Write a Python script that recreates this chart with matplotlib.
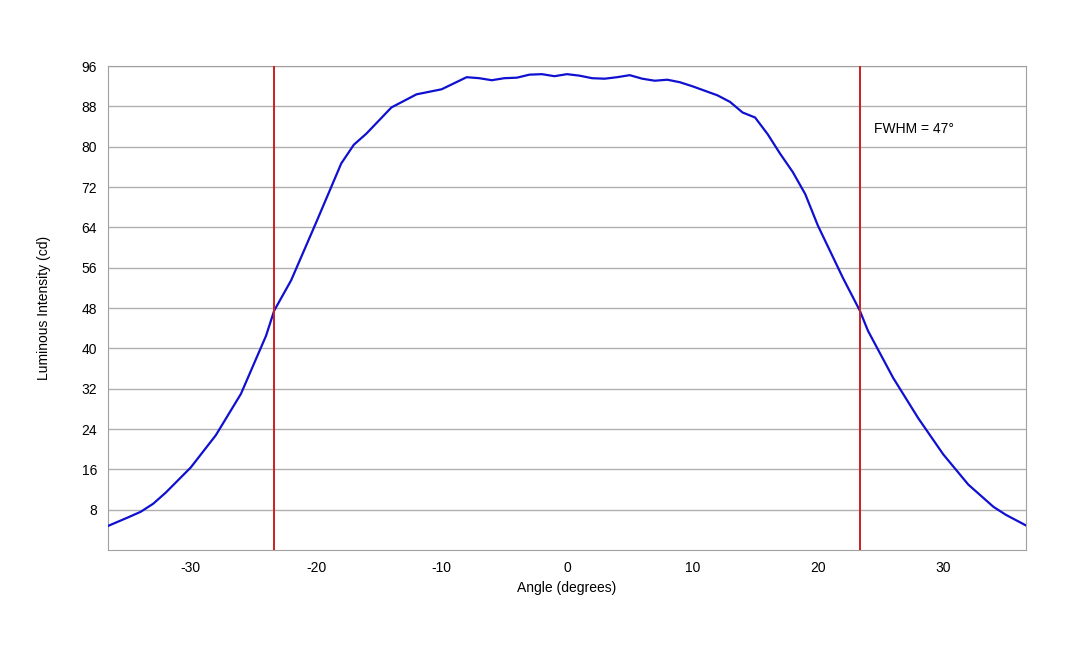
import matplotlib.pyplot as plt

plt.rcParams['font.family'] = ['Liberation Sans', 'DejaVu Sans']
plt.rcParams['axes.unicode_minus'] = False

angle = [-36.6, -35, -34, -33, -32, -30, -28, -26, -24, -23.35, -22, -20, -18, -17, -16, -14, -12, -10,
         -9, -8, -7, -6, -5, -4, -3, -2, -1, 0, 1, 2, 3, 4, 5, 6, 7, 8, 9, 10, 11, 12, 13, 14, 15,
         16, 17, 18, 19, 20, 22, 23.35, 24, 26, 28, 30, 32, 34, 35, 36.6]
intensity = [4.8, 6.5, 7.6, 9.2, 11.4, 16.4, 22.8, 31.0, 42.5, 47.5, 53.5, 65.0, 76.7, 80.4, 82.6, 87.8,
             90.4, 91.4, 92.6, 93.8, 93.6, 93.2, 93.6, 93.7, 94.3, 94.4, 94.0, 94.4, 94.1, 93.6,
             93.5, 93.8, 94.2, 93.5, 93.1, 93.3, 92.8, 92.0, 91.1, 90.2, 88.9, 86.8, 85.8, 82.5,
             78.6, 75.0, 70.6, 64.4, 54.0, 47.5, 43.5, 34.2, 26.2, 19.0, 13.0, 8.6, 7.0, 4.9]
fwhm_left, fwhm_right = -23.35, 23.35

fig = plt.figure(figsize=(10.8, 6.48), dpi=100)
ax = fig.add_axes([0.1, 0.151, 0.85, 0.747])

ax.plot(angle, intensity, color='#1010d0', linewidth=1.6, zorder=3)
ax.axvline(fwhm_left, color='#cc1f1f', linewidth=1.4, zorder=4)
ax.axvline(fwhm_right, color='#cc1f1f', linewidth=1.4, zorder=4)
ax.text(24.5, 83.6, 'FWHM = 47°', fontsize=10, va='center')

ax.set_xlim(-36.6, 36.6)
ax.set_ylim(0, 96)
ax.set_xticks([-30, -20, -10, 0, 10, 20, 30])
ax.set_yticks(range(8, 97, 8))
ax.grid(axis='y', color='#b0b0b0', linewidth=1)
ax.tick_params(length=0, labelsize=10, pad=8)
for s in ax.spines.values():
    s.set_color('#a0a0a0')
ax.set_xlabel('Angle (degrees)', fontsize=10, labelpad=4)
ax.set_ylabel('Luminous Intensity (cd)', fontsize=10, labelpad=22)

fig.savefig('out.png')
